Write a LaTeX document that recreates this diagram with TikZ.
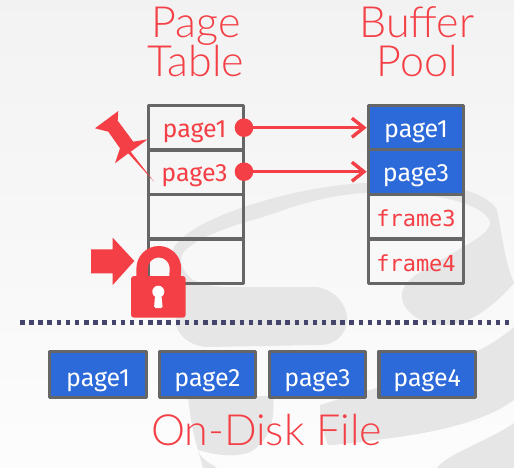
\documentclass[tikz,border=0pt]{standalone}
\usepackage{fontspec}
\setmainfont{Lato Light}
\newfontfamily\lab{Fira Sans}
\newfontfamily\mon{DejaVu Sans Mono}
\usetikzlibrary{arrows.meta}
\definecolor{dbred}{HTML}{F33F45}
\definecolor{dbblue}{HTML}{2D6AD9}
\definecolor{dbgray}{HTML}{666666}
\definecolor{dbnavy}{HTML}{45456B}
\definecolor{swirl}{HTML}{E6E6E6}
\tikzset{
 title/.style={text=dbred,font=\fontsize{43}{46}\selectfont,inner sep=0pt,anchor=base},
 slot/.style={draw=dbgray,line width=3.3pt,minimum width=95.4pt,minimum height=44.5pt,inner sep=0pt,line join=round,font=\lab\fontsize{25}{28}\selectfont,text=dbred,text height=20pt,text depth=0pt},
 full/.style={slot,fill=dbblue,text=white},
 frm/.style={slot,font=\mon\fontsize{22}{24}\selectfont,text height=19pt},
 disk/.style={draw=dbgray,line width=3.3pt,fill=dbblue,text=white,minimum width=96.4pt,minimum height=46pt,inner sep=0pt,line join=round,font=\lab\fontsize{25}{28}\selectfont,text height=24pt,text depth=0pt},
 dot/.style={circle,fill=dbred,minimum size=18.6pt,inner sep=0pt},
 link/.style={draw=dbred,line width=3.4pt,-{Straight Barb[length=12pt,width=19pt,line width=3.4pt]}}
}
\begin{document}
\begin{tikzpicture}[x=1pt,y=-1pt]
\useasboundingbox (0,0) rectangle (514,468);
\shade[top color=black!5,bottom color=black!1] (0,0) rectangle (514,468);
% watermark
\fill[swirl] (172,253) .. controls (175,235) and (215,215) .. (260,202) .. controls (300,190) and (335,185) .. (363,183) .. controls (405,180) and (480,182) .. (497,210) .. controls (503,240) and (505,262) .. (514,283) .. controls (495,305) and (470,325) .. (445,325) .. controls (420,325) and (400,310) .. (402,293) .. controls (405,275) and (440,262) .. (463,247) .. controls (485,235) and (495,225) .. (488,218) .. controls (475,200) and (420,190) .. (363,193) .. controls (320,196) and (290,208) .. (260,218) .. controls (230,226) and (195,238) .. (183,253) .. controls (178,262) and (183,272) .. (193,280) .. controls (210,288) and (225,287) .. (243,287) -- (317,287) .. controls (335,290) and (347,305) .. (347,318) .. controls (347,335) and (335,345) .. (320,345) -- (205,347) .. controls (190,345) and (175,335) .. (176,320) -- cycle;
\fill[swirl] (188,396) -- (273,396) .. controls (275,415) and (272,440) .. (250,452) .. controls (235,458) and (215,455) .. (198,450) -- (203,468) -- (217,468) .. controls (208,462) and (200,458) .. (198,450) .. controls (192,430) and (190,415) .. (188,396) -- cycle;
\fill[swirl] (320,405) .. controls (400,380) and (470,365) .. (514,327) -- (514,400) .. controls (480,425) and (420,435) .. (375,440) .. controls (360,442) and (340,445) .. (328,445) .. controls (322,430) and (320,418) .. (320,405) -- cycle;
\fill[swirl] (437,468) .. controls (445,455) and (490,440) .. (514,423) -- (514,468) -- cycle;
% tables
\node[title] (pt) at (196,38) {Page};
\node[title] (pt2) at (196,77) {Table};
\node[title] (bp) at (417,38) {Buffer};
\node[title] (bp2) at (417,77) {Pool};
\node[slot] (a1) at (196,128) {\kern-3pt page1};
\node[slot] (a2) at (196,172) {\kern-3pt page3};
\node[slot] (a3) at (196,216.5) {};
\node[slot] (a4) at (196,261.5) {};
\node[full] (b1) at (416,128) {page1};
\node[full] (b2) at (416,172) {page3};
\node[frm] (b3) at (416,216.5) {frame3};
\node[frm] (b4) at (416,261.5) {frame4};
\node[dot] (d1) at (244,127.7) {};
\node[dot] (d2) at (244,171.7) {};
\draw[link] (d1.center) -- (d1.center -| b1.west);
\draw[link] (d2.center) -- (d2.center -| b2.west);
% pin
\fill[dbred] (95,128.3) -- (118.3,111) -- (117.7,120.7) -- (133.3,141.7) -- (147.7,139.3) -- (130.7,151.7) -- (154,181.7) -- (128.3,153.3) -- (115,163.3) -- (120,148.3) -- (108.3,131.7) -- cycle;
% arrow
\fill[dbred] (91,249.3) -- (112.7,249.3) -- (112.7,237.7) -- (134.3,261) -- (112.7,285) -- (112.7,273.3) -- (91,273.3) -- cycle;
% lock
\draw[dbred,line width=11.5pt] (142.2,285) -- (142.2,268.4) arc[start angle=180,end angle=360,radius=16.6] -- (174.8,285);
\fill[dbred,rounded corners=3pt] (131,276) rectangle (185.7,317.7);
\fill[white,rounded corners=1.5pt] (154,308) -- (155,296) -- (161.5,296) -- (162.7,308) -- cycle;
\fill[white] (158.3,291.7) circle (6pt);
% divider
\coordinate (dl) at (20,322.3);
\coordinate (dr) at (514,322.3);
\draw[dbnavy,line width=4.5pt,dash pattern=on 4.5pt off 4.65pt] (dl) -- (dr);
% disk
\node[disk] (f1) at (98,374.4) {page1};
\node[disk] (f2) at (207.5,374.4) {page2};
\node[disk] (f3) at (317.5,374.4) {page3};
\node[disk] (f4) at (427.2,374.4) {page4};
\node[title] (fl) at (266.5,445) {On-Disk File};
\end{tikzpicture}
\end{document}
